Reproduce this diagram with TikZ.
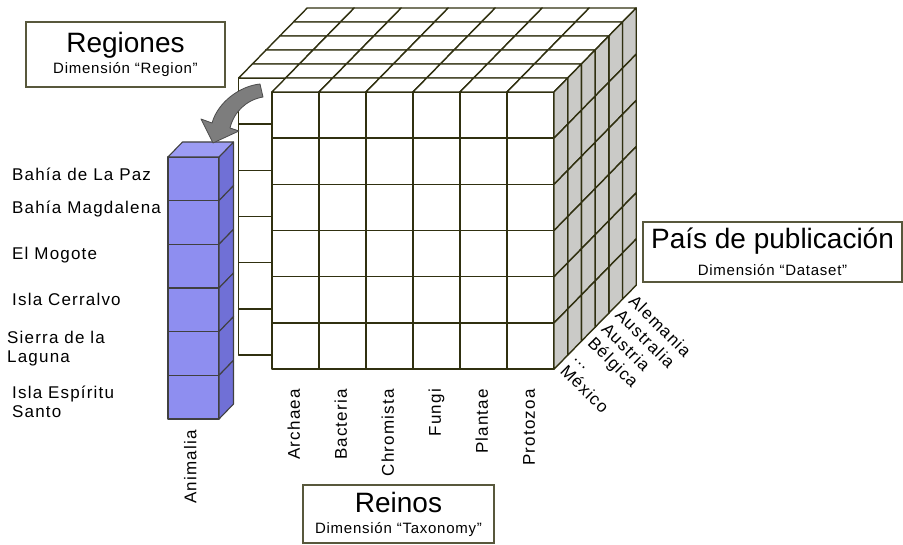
\documentclass[tikz,border=0pt]{standalone}
\usepackage{fontspec}
\setmainfont{Liberation Sans}
\newfontfamily\lblfont[LetterSpace=7]{Liberation Sans}
\newfontfamily\dimfont[LetterSpace=5]{Liberation Sans}
\usetikzlibrary{positioning}

\definecolor{edge}{RGB}{48,48,16}
\definecolor{sidegray}{RGB}{202,202,199}
\definecolor{slicefront}{RGB}{142,142,240}
\definecolor{slicetop}{RGB}{156,156,244}
\definecolor{sliceside}{RGB}{112,112,214}
\definecolor{boxline}{RGB}{88,88,60}
\definecolor{arrowgray}{RGB}{125,125,125}

\begin{document}
\begin{tikzpicture}[
  x=1pt, y=-1pt,
  cell/.style={draw=edge, line width=1.4pt, fill=white, line join=round},
  side/.style={cell, fill=sidegray},
  slice/.style={draw=black!75, line width=1.1pt, fill=slicefront, line join=round},
  lbl/.style={font=\lblfont\fontsize{17}{20}\selectfont, inner sep=0pt},
  tick/.style={lbl, text height=12pt, text depth=3.5pt},
  dimbox/.style={draw=boxline, line width=1.2pt, fill=white, align=center, inner sep=0pt,
    font=\fontsize{28}{21}\selectfont}
]
  \useasboundingbox (0,0) rectangle (903,545);
  \fill[white] (0,0) rectangle (903,545);

  % cube: 7 kingdoms x 6 regions x 6 countries, front Animalia column pulled out
  \foreach \k in {5,...,0}{
    \pgfmathtruncatemacro{\first}{\k==0 ? 1 : 0}
    \foreach \c in {\first,...,6}{
      \foreach \r in {0,...,5}
        \draw[cell] (225+47*\c+13.7*\k, 92+46.2*\r-14*\k) rectangle ++(47,46.2);
      \draw[cell] (225+47*\c+13.7*\k, 92-14*\k) -- ++(13.7,-14) -- ++(47,0) -- ++(-13.7,14) -- cycle;
    }
    \foreach \r in {0,...,5}
      \draw[side] (554+13.7*\k, 92+46.2*\r-14*\k) -- ++(13.7,-14) -- ++(0,46.2) -- ++(-13.7,14) -- cycle;
  }

  % the Animalia slice
  \foreach \r in {0,...,5}{
    \draw[slice] (168,157+43.67*\r) rectangle ++(51,43.67);
    \draw[slice, fill=sliceside] (219,157+43.67*\r) -- ++(14.5,-15) -- ++(0,43.67) -- ++(-14.5,15) -- cycle;
  }
  \draw[slice, fill=slicetop] (168,157) -- ++(14.5,-15) -- ++(51,0) -- ++(-14.5,15) -- cycle;

  \filldraw[fill=arrowgray, draw=black!70, line width=0.8pt, line join=round]
    (260,84) .. controls (240,86) and (218,102) .. (212,123) -- (201,119) -- (213,143)
    -- (239,131) -- (230,128) .. controls (234,112) and (246,100) .. (263,97) -- cycle;

  \node[dimbox, minimum width=199pt, minimum height=65pt] (regiones) at (125.5,54.5)
    {Regiones\\{\dimfont\fontsize{15}{18}\selectfont Dimensión “Region”}};
  \node[dimbox, minimum width=259pt, minimum height=60pt] (pais) at (772.5,252)
    {País de publicación\\[6pt]{\dimfont\fontsize{15}{18}\selectfont Dimensión “Dataset”}};
  \node[dimbox, minimum width=191pt, minimum height=58pt] (reinos) at (398.5,514)
    {Reinos\\{\dimfont\fontsize{15}{18}\selectfont Dimensión “Taxonomy”}};

  \node[lbl, anchor=base west] (lapaz) at (12,181) {Bahía de La Paz};
  \node[lbl, anchor=base west] (magdalena) at (12,214) {Bahía Magdalena};
  \node[lbl, anchor=base west] (mogote) at (12,260) {El Mogote};
  \node[lbl, anchor=base west] (cerralvo) at (12,306) {Isla Cerralvo};
  \node[lbl, anchor=base west, align=left] (sierra) at (7,363) {Sierra de la\\Laguna};
  \node[lbl, anchor=base west, align=left] (espiritu) at (12,418) {Isla Espíritu\\Santo};

  \node[tick, rotate=90, anchor=east] (animalia) at (192,430) {Animalia};
  \foreach \name [count=\c] in {Archaea,Bacteria,Chromista,Fungi,Plantae,Protozoa}
    \node[tick, rotate=90, anchor=east] (kingdom\c) at (248.5+47*\c,389) {\name};

  \foreach \name [count=\k from 0] in {México,{\ldots},Bélgica,Austria,Australia,Alemania}
    \node[tick, rotate=-45, anchor=west] (country\k) at (562.35+13.7*\k,369-14*\k) {\name};
\end{tikzpicture}
\end{document}
